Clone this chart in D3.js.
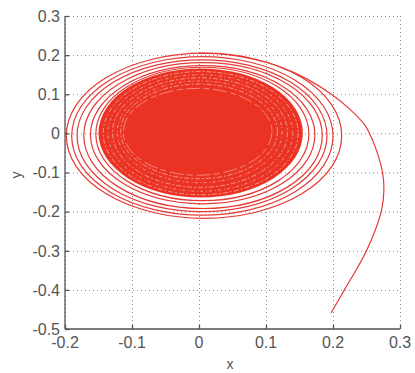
<!DOCTYPE html>
<html>
<head>
<meta charset="utf-8">
<script src="https://cdnjs.cloudflare.com/ajax/libs/d3/7.8.5/d3.min.js"></script>
<style>
  html, body { margin: 0; padding: 0; background: #fff; }
  svg { display: block; font-family: "Liberation Sans", Arial, sans-serif; }
</style>
</head>
<body>
<div id="chart"></div>
<script>
// axis ticks
const xTicks = [-0.2, -0.1, 0, 0.1, 0.2, 0.3];
const yTicks = [-0.5, -0.4, -0.3, -0.2, -0.1, 0, 0.1, 0.2, 0.3];

// transient: starts at (0.2, -0.46) and swings round into the attractor
const tailX = [0.197, 0.217, 0.250, 0.272, 0.276, 0.274, 0.262, 0.248, 0.225, 0.196, 0.160, 0.121, 0.080, 0.040, 0.000];
const tailY = [-0.459, -0.400, -0.300, -0.200, -0.145, -0.100, -0.030, 0.020, 0.062, 0.102, 0.140, 0.170, 0.190, 0.202, 0.205];

// outer separate loops, extents: [left, right, bottom, top]
const outerLoops = [
  [-0.198, 0.213, -0.217, 0.205],
  [-0.190, 0.200, -0.209, 0.196],
  [-0.182, 0.191, -0.200, 0.188],
  [-0.172, 0.184, -0.192, 0.181],
  [-0.162, 0.173, -0.180, 0.173],
  [-0.154, 0.164, -0.172, 0.169]
];

// dense band (filled) and its lighter streak loops
const band = [-0.150, 0.155, -0.164, 0.166];
const bandStreaks = [
  [-0.143, 0.148, -0.157, 0.158],
  [-0.136, 0.140, -0.148, 0.150],
  [-0.129, 0.132, -0.138, 0.142],
  [-0.122, 0.124, -0.126, 0.134],
  [-0.117, 0.117, -0.116, 0.126]
];

// solid core
const core = [-0.113, 0.109, -0.107, 0.115];

const W = 415, H = 373;
const margin = { left: 65, right: 15, top: 16, bottom: 44 };
const red = '#ea3323';
const lineRed = '#e53a35';

const x = d3.scaleLinear().domain([-0.2, 0.3]).range([margin.left, W - margin.right]);
const y = d3.scaleLinear().domain([-0.5, 0.3]).range([H - margin.bottom, margin.top]);

const svg = d3.select('#chart').append('svg')
  .attr('width', W)
  .attr('height', H);

// grid
svg.append('g')
  .attr('transform', `translate(0,${y(-0.5)})`)
  .call(d3.axisBottom(x).tickValues(xTicks).tickSize(-(y(-0.5) - y(0.3))).tickFormat(''))
  .call(g => g.select('.domain').remove())
  .call(g => g.selectAll('line').attr('stroke', '#8a8a8a').attr('stroke-dasharray', '1,3'));

svg.append('g')
  .attr('transform', `translate(${x(-0.2)},0)`)
  .call(d3.axisLeft(y).tickValues(yTicks).tickSize(-(x(0.3) - x(-0.2))).tickFormat(''))
  .call(g => g.select('.domain').remove())
  .call(g => g.selectAll('line').attr('stroke', '#8a8a8a').attr('stroke-dasharray', '1,3'));

// ellipse from [left, right, bottom, top] extents
function ellipseFrom(g, e) {
  return g.append('ellipse')
    .attr('cx', (x(e[0]) + x(e[1])) / 2)
    .attr('cy', (y(e[2]) + y(e[3])) / 2)
    .attr('rx', (x(e[1]) - x(e[0])) / 2)
    .attr('ry', (y(e[2]) - y(e[3])) / 2);
}

const plot = svg.append('g');

// filled band
ellipseFrom(plot, band).attr('fill', red);

// streaks in band
bandStreaks.forEach((e, i) => {
  ellipseFrom(plot, e)
    .attr('fill', 'none')
    .attr('stroke', '#f7b3ad')
    .attr('stroke-width', 0.9)
    .attr('stroke-dasharray', i % 2 ? '3,2,1,3' : '5,2,2,2')
    .attr('stroke-opacity', 0.85);
});

// core
ellipseFrom(plot, core).attr('fill', red);
ellipseFrom(plot, core)
  .attr('fill', 'none')
  .attr('stroke', '#fff')
  .attr('stroke-width', 0.8)
  .attr('stroke-opacity', 0.5)
  .attr('stroke-dasharray', '14,4,6,3');

// outer loops
outerLoops.forEach(e => {
  ellipseFrom(plot, e)
    .attr('fill', 'none')
    .attr('stroke', lineRed)
    .attr('stroke-width', 1.2);
});

// transient tail
const tail = tailX.map((v, i) => [v, tailY[i]]);
plot.append('path')
  .datum(tail)
  .attr('fill', 'none')
  .attr('stroke', lineRed)
  .attr('stroke-width', 1.2)
  .attr('d', d3.line().x(d => x(d[0])).y(d => y(d[1])).curve(d3.curveCatmullRom));

// axes (left + bottom only, ticks inward)
const axisColor = '#555';
svg.append('g')
  .attr('transform', `translate(0,${y(-0.5)})`)
  .call(d3.axisTop(x).tickValues(xTicks).tickSize(4).tickFormat(''))
  .call(g => g.selectAll('line,path').attr('stroke', axisColor).attr('stroke-width', 1.3))
  .call(g => g.select('.domain').attr('d', `M${x(-0.2)},0H${x(0.3)}`));

svg.append('g')
  .attr('transform', `translate(${x(-0.2)},0)`)
  .call(d3.axisRight(y).tickValues(yTicks).tickSize(4).tickFormat(''))
  .call(g => g.selectAll('line,path').attr('stroke', axisColor).attr('stroke-width', 1.3))
  .call(g => g.select('.domain').attr('d', `M0,${y(-0.5)}V${y(0.3)}`));

// tick labels, plain hyphen minus like MATLAB
const fmt = d => String(+d.toFixed(1));

svg.append('g').selectAll('text')
  .data(xTicks)
  .join('text')
  .attr('x', d => x(d))
  .attr('y', y(-0.5) + 19)
  .attr('text-anchor', 'middle')
  .attr('fill', axisColor)
  .style('font-size', '16px')
  .text(fmt);

svg.append('g').selectAll('text')
  .data(yTicks)
  .join('text')
  .attr('x', x(-0.2) - 5)
  .attr('y', d => y(d))
  .attr('dy', '0.36em')
  .attr('text-anchor', 'end')
  .attr('fill', axisColor)
  .style('font-size', '16px')
  .text(fmt);

// axis titles
svg.append('text')
  .attr('x', 230)
  .attr('y', 369)
  .attr('text-anchor', 'middle')
  .attr('fill', axisColor)
  .style('font-size', '14px')
  .text('x');

svg.append('text')
  .attr('transform', `translate(21,175) rotate(-90)`)
  .attr('text-anchor', 'middle')
  .attr('fill', axisColor)
  .style('font-size', '14px')
  .text('y');
</script>
</body>
</html>
